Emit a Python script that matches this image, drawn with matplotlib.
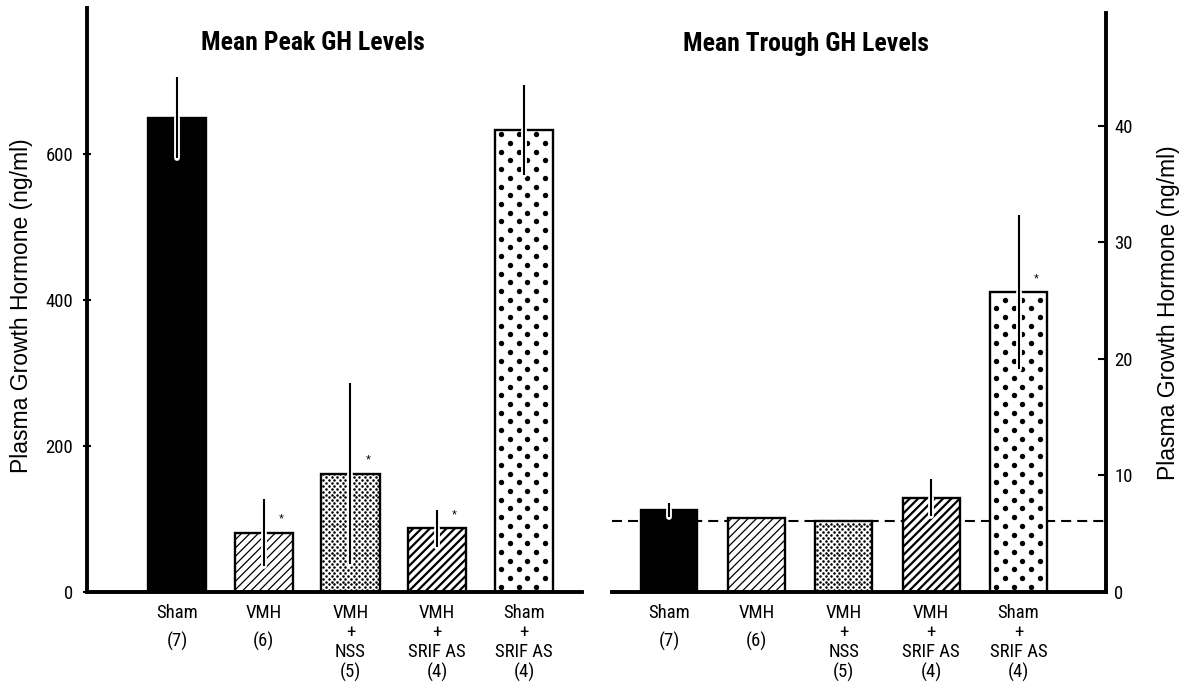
import numpy as np
import matplotlib
matplotlib.use("Agg")
import matplotlib.pyplot as plt

# ---------------- data ----------------
groups = ["Sham\n(7)", "VMH\n(6)", "VMH\n+\nNSS\n(5)", "VMH\n+\nSRIF AS\n(4)", "Sham\n+\nSRIF AS\n(4)"]
peak_mean = [650, 81, 162, 87, 633]
peak_sem = [55, 46, 124, 25, 62]
peak_star = [False, True, True, True, False]
trough_mean = [7.0, 6.35, 6.1, 8.1, 25.7]
trough_sem = [0.6, 0.0, 0.0, 1.6, 6.6]
trough_star = [False, False, False, False, True]
trough_baseline = 6.1
left_ticks = [0, 200, 400, 600]
right_ticks = [0, 10, 20, 30, 40]
title_left = "Mean Peak GH Levels"
title_right = "Mean Trough GH Levels"
ylab = "Plasma Growth Hormone (ng/ml)"

# ---------------- style ----------------
NARROW = ["Liberation Sans Narrow", "Roboto Condensed", "DejaVu Sans Condensed", "Roboto", "DejaVu Sans"]
REG = ["Liberation Sans", "DejaVu Sans"]
styles = [
    dict(fc="black", hatch=None, hlw=1.0, dots=None),
    dict(fc="white", hatch="////", hlw=0.9, dots=None),
    dict(fc="white", hatch=None, hlw=1.0, dots=(5.5, 2.9, 3.4)),
    dict(fc="white", hatch="////", hlw=1.6, dots=None),
    dict(fc="white", hatch=None, hlw=1.0, dots=(17.5, 8.7, 15.0)),
]

W, H = 1186, 684
fig = plt.figure(figsize=(W / 100, H / 100), dpi=100)
axL = fig.add_axes([87 / W, (H - 592) / H, (582 - 87) / W, 584 / H])
axR = fig.add_axes([612 / W, (H - 592) / H, (1106 - 612) / W, 584 / H])

axL.set_xlim(-1.037, 4.669)
axL.set_ylim(0, 800)
axR.set_xlim(-0.652, 5.001)
axR.set_ylim(0, 50.1)


def dot_fill(ax, patch, dx, dy, s, z):
    ext = patch.get_window_extent()
    pts = []
    y = ext.y0 + dy * 0.6
    row = 0
    while y < ext.y1:
        x = ext.x0 + (dx * 0.35 if row % 2 == 0 else dx * 0.35 + dx / 2)
        while x < ext.x1:
            pts.append((x, y))
            x += dx
        y += dy
        row += 1
    if not pts:
        return
    data = ax.transData.inverted().transform(np.array(pts))
    sc = ax.scatter(data[:, 0], data[:, 1], s=s, c="black", linewidths=0, zorder=z)
    sc.set_clip_path(patch)


def draw_panel(ax, means, sems, stars, width):
    x = np.arange(len(means))
    for i in range(len(means)):
        st = styles[i]
        with plt.rc_context({"hatch.linewidth": st["hlw"]}):
            b = ax.bar(x[i], means[i], width, color=st["fc"], edgecolor="black",
                       linewidth=0, hatch=st["hatch"], zorder=2)[0]
        if hasattr(b, "set_hatch_linewidth"):
            b.set_hatch_linewidth(st["hlw"])
        if st["dots"] is not None:
            dx, dy, s = st["dots"]
            dot_fill(ax, b, dx, dy, s, 2.5)
    ax.bar(x, means, width, fill=False, edgecolor="black", linewidth=1.7, zorder=3)
    m = np.array(means)
    e = np.array(sems)
    has = e > 0
    ax.vlines(x[has], (m - e)[has], m[has], colors="white", linewidth=4.2,
              capstyle="round", zorder=4)
    ax.vlines(x[has], (m - e)[has], (m + e)[has], colors="black", linewidth=1.5, zorder=5)
    for i in range(len(means)):
        if stars[i]:
            ax.annotate("*", xy=(x[i], means[i]), xytext=(12.5, 5), textcoords="offset points",
                        ha="center", va="bottom", fontsize=9, family=REG, zorder=6)
    ax.set_xticks(x)
    ax.set_xticklabels(groups, family=NARROW, fontsize=13.5, va="top")
    for t in ax.get_xticklabels():
        n = t.get_text().count("\n")
        t.set_linespacing(1.62 if n == 1 else 1.1)
    ax.tick_params(axis="x", length=0, pad=9)


draw_panel(axL, peak_mean, peak_sem, peak_star, 0.67)
draw_panel(axR, trough_mean, trough_sem, trough_star, 0.65)
axR.axhline(trough_baseline, color="black", linewidth=1.5, linestyle=(0, (4.8, 2.9)), zorder=1)

# spines / ticks
for ax in (axL, axR):
    for sp in ax.spines.values():
        sp.set_visible(False)
    ax.spines["bottom"].set_visible(True)
    ax.spines["bottom"].set_linewidth(2.8)
    ax.spines["bottom"].set_zorder(6)
    ax.patch.set_visible(False)

axL.spines["left"].set_visible(True)
axL.spines["left"].set_linewidth(2.8)
axL.set_yticks(left_ticks)
axL.set_yticklabels([str(v) for v in left_ticks], family=NARROW, fontsize=13.5)
axL.tick_params(axis="y", direction="inout", length=6, width=1.5, pad=7)

axR.spines["right"].set_visible(True)
axR.spines["right"].set_linewidth(2.8)
axR.spines["right"].set_bounds(0, 49.7)
axR.yaxis.tick_right()
axR.set_yticks(right_ticks)
axR.set_yticklabels([str(v) for v in right_ticks], family=NARROW, fontsize=13.5)
axR.tick_params(axis="y", direction="in", length=6, width=1.5, pad=6)

# titles and labels
fig.text(313 / W, 1 - 43 / H, title_left, ha="center", va="center",
         family=NARROW, fontweight="bold", fontsize=18.5)
fig.text(806 / W, 1 - 44 / H, title_right, ha="center", va="center",
         family=NARROW, fontweight="bold", fontsize=18.5)
fig.text(22 / W, 1 - 306 / H, ylab, rotation=90, ha="center", va="center",
         family=REG, fontsize=16.5)
fig.text(1168 / W, 1 - 313 / H, ylab, rotation=90, ha="center", va="center",
         family=REG, fontsize=16.5)

fig.savefig("out.png", dpi=100)
